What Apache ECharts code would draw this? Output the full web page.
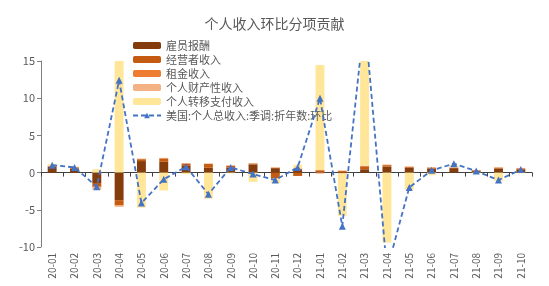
<!DOCTYPE html>
<html>
<head>
<meta charset="utf-8">
<script src="https://cdn.jsdelivr.net/npm/echarts@6/dist/echarts.min.js"></script>
<style>html,body{margin:0;padding:0;background:#fff;}#c{width:549px;height:286px;}</style>
</head>
<body>
<div id="c"></div>
<script>
const categories = ['20-01','20-02','20-03','20-04','20-05','20-06','20-07','20-08','20-09','20-10','20-11','20-12','21-01','21-02','21-03','21-04','21-05','21-06','21-07','21-08','21-09','21-10'];
const compensation = [0.75, 0.55, -1.4, -3.7, 1.55, 1.45, 0.9, 0.65, 0.65, 1.1, 0.6, 0.45, 0.05, -0.1, 0.45, 0.8, 0.65, 0.55, 0.6, 0.2, 0.55, 0.45];
const proprietors = [0.1, 0.15, -0.5, -0.7, 0.25, 0.45, 0.3, 0.5, 0.25, 0.1, -0.8, -0.45, 0.25, 0.2, 0.4, 0.2, 0.1, 0.1, 0.05, 0.1, 0.1, 0.1];
const rental = [0.03, 0.03, -0.05, -0.05, 0.05, 0.05, 0.05, 0.05, 0.05, 0.05, 0.05, 0.05, 0.05, 0.05, 0.05, 0.05, 0.05, 0.05, 0.03, 0.03, 0.05, 0.05];
const assetIncome = [0.05, 0.05, -0.35, -0.15, 0.03, 0.03, 0.03, 0.03, 0.03, 0.03, 0.1, 0.1, -0.15, 0.05, 0.05, 0.03, 0.03, 0.03, 0.03, 0.03, 0.03, 0.03];
const transfers = [0.25, 0.05, 0.45, 17.0, -4.7, -2.4, -0.2, -3.5, -0.1, -1.25, -0.6, 0.45, 14.1, -5.7, 20.0, -9.4, -2.3, -0.35, 0.3, -0.1, -1.1, -0.1];
const totalIncome = [1.0, 0.7, -1.9, 12.4, -4.1, -0.9, 0.8, -2.9, 0.7, -0.2, -1.0, 0.7, 10.0, -7.2, 20.9, -13.1, -2.0, 0.3, 1.2, 0.2, -1.0, 0.4];

const names = ['雇员报酬','经营者收入','租金收入','个人财产性收入','个人转移支付收入','美国:个人总收入:季调:折年数:环比'];
const colors = ['#843C0C','#C55A11','#ED7D31','#F4B183','#FFE699','#4472C4'];
const font = '"Noto Sans CJK SC", sans-serif';

const barData = [compensation, proprietors, rental, assetIncome, transfers];
const series = barData.map((d, i) => ({
  name: names[i], type: 'bar', stack: 'total', data: d,
  barWidth: '40%', itemStyle: { color: colors[i] }, xAxisIndex: 0
}));
series.push({
  name: names[5], type: 'line', data: totalIncome, xAxisIndex: 0,
  symbol: 'triangle', symbolSize: 7, z: 10,
  lineStyle: { color: colors[5], width: 1.8, type: [5, 3] },
  itemStyle: { color: colors[5] }
});

const chart = echarts.init(document.getElementById('c'), null, { renderer: 'canvas' });
chart.setOption({
  animation: false,
  title: { text: '个人收入环比分项贡献', left: 'center', top: 12,
    textStyle: { fontFamily: font, fontSize: 14, fontWeight: 'normal', color: '#595959' } },
  legend: {
    orient: 'vertical', left: 127, top: 35, itemWidth: 28, itemHeight: 7, itemGap: 3,
    textStyle: { fontFamily: font, fontSize: 11, color: '#595959', lineHeight: 11 },
    data: names
  },
  grid: { left: 41, right: 17, top: 61, bottom: 39, containLabel: false },
  xAxis: [
    { type: 'category', data: categories, position: 'bottom',
      axisLine: { show: false, onZero: false }, axisTick: { show: false },
      axisLabel: { rotate: 90, interval: 0, fontFamily: font, fontSize: 10, color: '#595959', margin: 6 } },
    { type: 'category', data: categories, position: 'bottom',
      axisLine: { show: true, onZero: true, lineStyle: { color: '#404040', width: 1 } },
      axisTick: { show: true, length: 4, interval: 0, lineStyle: { color: '#404040' } },
      axisLabel: { show: false } }
  ],
  yAxis: {
    type: 'value', min: -10, max: 15, interval: 5,
    axisLine: { show: true, lineStyle: { color: '#7f7f7f' } },
    axisTick: { show: true, length: 4, lineStyle: { color: '#7f7f7f' } },
    splitLine: { show: false },
    axisLabel: { fontFamily: font, fontSize: 11, color: '#595959', margin: 6 }
  },
  series: series
});
</script>
</body>
</html>
